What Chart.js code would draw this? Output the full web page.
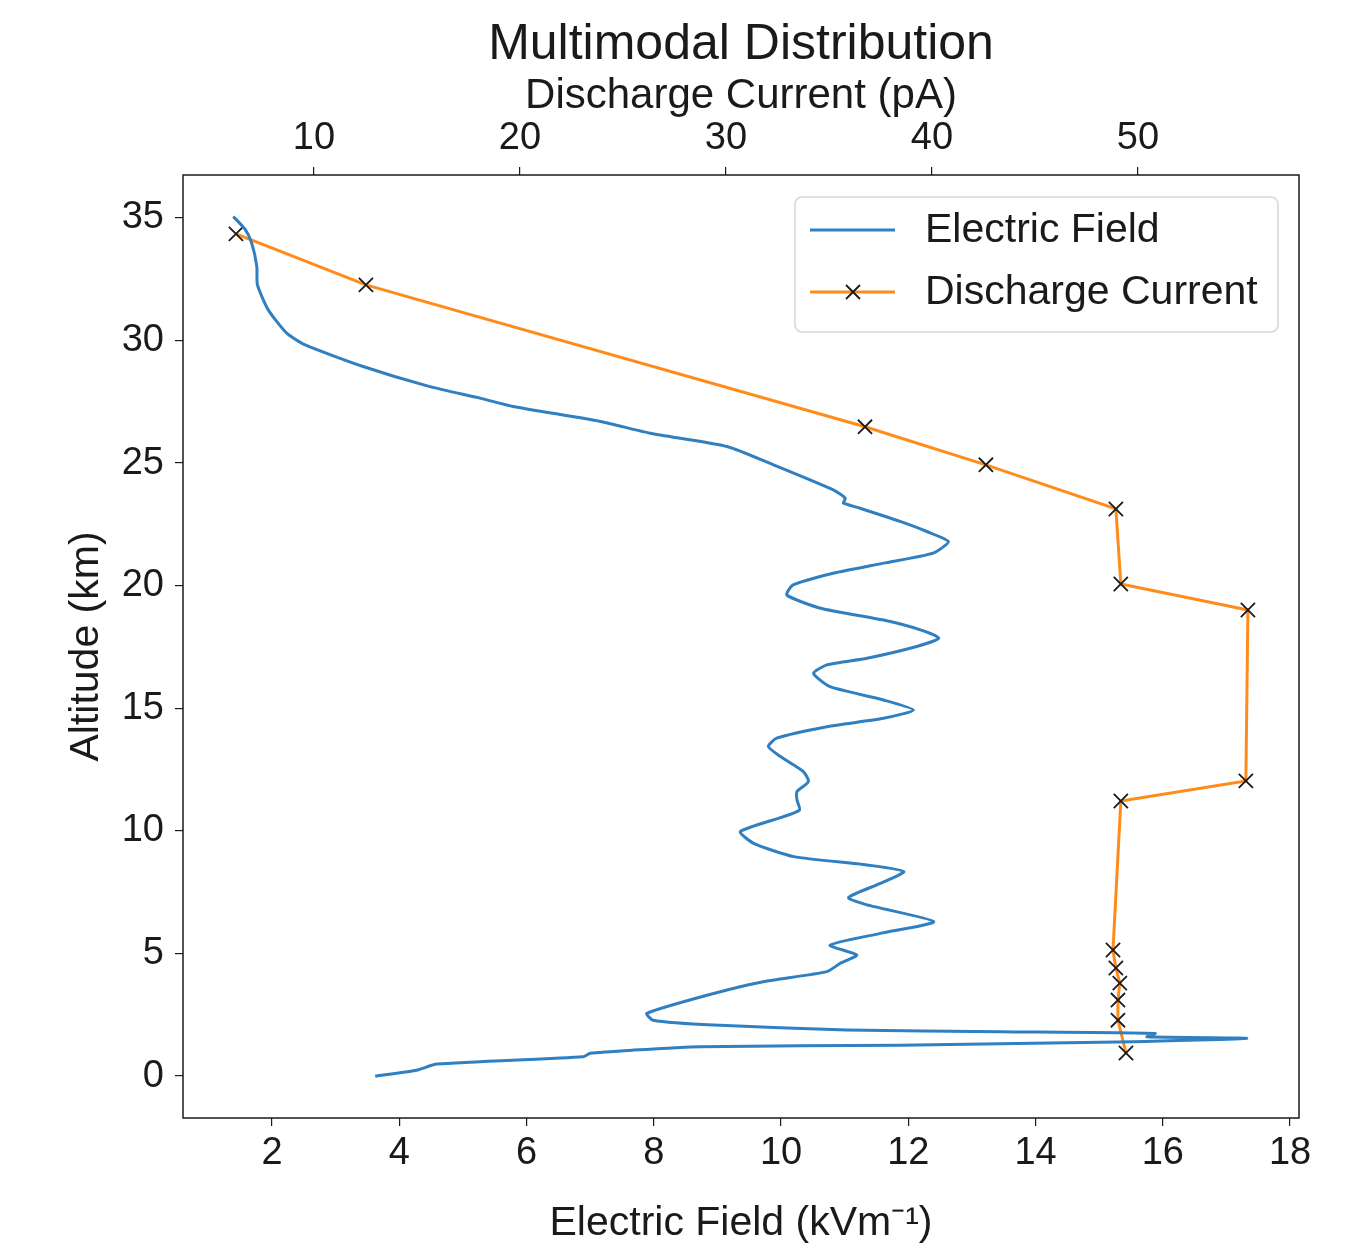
<!DOCTYPE html>
<html>

<head>
  <title>Multimodal Distribution</title>
  <meta content="text/html;charset=utf-8" http-equiv="Content-Type">
  <script src="https://cdn.jsdelivr.net/npm/chart.js"></script>
  <style>
    body { margin: 0; background: #fff; }
    #wrap { width: 1362px; height: 1254px; }
  </style>
</head>

<body>
  <div id="wrap">
    <canvas id="myChart" width="1362" height="1254"></canvas>
  </div>

  <script>
    // electric field profile (kV/m) vs altitude (km)
    const fieldValues = [1.39, 1.58, 1.68, 1.76, 1.77, 1.94, 2.23, 2.52, 3.43, 4.48, 5.27, 5.79, 7.16, 7.94,
      9.15, 9.88, 10.82, 11.01, 10.98, 11.24, 11.87, 12.29, 12.63, 12.39, 11.61, 10.82, 10.19, 10.09,
      10.62, 11.61, 12.19, 12.48, 12.13, 11.35, 10.72, 10.51, 10.77, 11.61, 12.08, 11.61, 10.72, 9.93,
      9.80, 9.99, 10.35, 10.43, 10.25, 10.25, 10.29, 10.04, 9.36, 9.57, 10.20, 11.35, 11.93, 11.56,
      11.06, 11.35, 12.40, 11.56, 10.77, 11.19, 10.93, 10.72, 9.72, 8.94, 7.89, 7.99, 8.94, 11.03,
      13.45, 15.88, 15.75, 17.32, 15.54, 11.87, 8.73, 7.68, 7.00, 6.89, 4.59, 4.27, 3.62]
    const fieldAltitudes = [35.06, 34.52, 33.97, 33.02, 32.27, 31.25, 30.30, 29.82, 28.94, 28.12, 27.65, 27.31, 26.70, 26.22,
      25.68, 24.93, 23.91, 23.57, 23.37, 23.16, 22.62, 22.21, 21.80, 21.33, 20.92, 20.51, 20.03, 19.62,
      19.08, 18.60, 18.20, 17.86, 17.52, 17.04, 16.77, 16.43, 15.88, 15.34, 14.93, 14.59, 14.25, 13.78,
      13.44, 13.03, 12.42, 12.01, 11.60, 11.26, 10.85, 10.58, 9.97, 9.49, 8.95, 8.61, 8.34, 7.86,
      7.28, 6.98, 6.30, 5.82, 5.34, 4.94, 4.60, 4.26, 3.85, 3.37, 2.56, 2.28, 2.08, 1.88,
      1.81, 1.74, 1.60, 1.54, 1.40, 1.26, 1.20, 1.06, 0.93, 0.79, 0.49, 0.24, 0.00]

    // discharge current (pA) vs altitude (km)
    const currentValues = [6.21, 12.52, 36.75, 42.62, 48.93, 49.17, 55.34, 55.24, 49.17, 48.79, 48.93, 49.12, 49.03, 49.03, 49.42]
    const currentAltitudes = [34.35, 32.27, 26.48, 24.93, 23.13, 20.07, 19.01, 12.04, 11.22, 5.14, 4.41, 3.79, 3.10, 2.28, 0.94]

    const fieldTicks = [2, 4, 6, 8, 10, 12, 14, 16, 18]
    const currentTicks = [10, 20, 30, 40, 50]
    const altitudeTicks = [0, 5, 10, 15, 20, 25, 30, 35]

    const FONT = "'Liberation Sans', Arial, sans-serif"
    const INK = '#1a1a1a'
    const BLUE = '#2f7fc1'
    const ORANGE = '#ff8c1a'

    // frame around plot + matplotlib style legend box
    const framePlugin = {
      id: 'frame',
      afterLayout(chart) {
        // center the title over the plot area, not the whole canvas
        const t = chart.titleBlock
        if (t) {
          t.left = chart.chartArea.left
          t.right = chart.chartArea.right
          t.width = t.right - t.left
        }
      },
      afterDraw(chart) {
        const { ctx, chartArea: a } = chart
        ctx.save()
        ctx.strokeStyle = INK
        ctx.lineWidth = 1.5
        ctx.strokeRect(a.left, a.top, a.right - a.left, a.bottom - a.top)

        // legend
        const bx = 795, by = 197, bw = 483, bh = 135, r = 7
        ctx.beginPath()
        ctx.roundRect(bx, by, bw, bh, r)
        ctx.fillStyle = 'rgba(255,255,255,0.85)'
        ctx.fill()
        ctx.strokeStyle = '#d6d6d6'
        ctx.lineWidth = 1.5
        ctx.stroke()

        const items = chart.data.datasets
        items.forEach((ds, i) => {
          const y = 230 + i * 62
          ctx.beginPath()
          ctx.strokeStyle = ds.borderColor
          ctx.lineWidth = 3
          ctx.moveTo(810, y)
          ctx.lineTo(895, y)
          ctx.stroke()
          if (ds.pointRadius > 0) {
            ctx.beginPath()
            ctx.strokeStyle = INK
            ctx.lineWidth = 1.8
            ctx.moveTo(846, y - 7); ctx.lineTo(860, y + 7)
            ctx.moveTo(846, y + 7); ctx.lineTo(860, y - 7)
            ctx.stroke()
          }
          ctx.fillStyle = INK
          ctx.font = '41px ' + FONT
          ctx.textBaseline = 'middle'
          ctx.textAlign = 'left'
          ctx.fillText(ds.label, 925, y + 1)
        })
        ctx.restore()
      }
    }

    const gridOpts = {
      drawOnChartArea: false,
      drawTicks: true,
      tickLength: 8,
      color: INK,
      lineWidth: 1.2
    }

    const ctx = document.getElementById('myChart').getContext('2d')

    const myChart = new Chart(ctx, {
      type: 'scatter',
      data: {
        datasets: [
          {
            label: 'Electric Field',
            data: fieldValues.map((v, i) => ({ x: v, y: fieldAltitudes[i] })),
            xAxisID: 'x',
            yAxisID: 'y',
            showLine: true,
            borderColor: BLUE,
            borderWidth: 3,
            pointRadius: 0,
            tension: 0.2
          },
          {
            label: 'Discharge Current',
            data: currentValues.map((v, i) => ({ x: v, y: currentAltitudes[i] })),
            xAxisID: 'x2',
            yAxisID: 'y',
            showLine: true,
            borderColor: ORANGE,
            borderWidth: 3,
            pointStyle: 'crossRot',
            pointRadius: 10,
            pointBorderColor: INK,
            pointBorderWidth: 1.8,
            tension: 0
          }
        ]
      },
      options: {
        responsive: false,
        animation: false,
        layout: { padding: { left: 0, right: 63, top: 0, bottom: 0 } },
        plugins: {
          legend: { display: false },
          tooltip: { enabled: false },
          title: {
            display: true,
            text: 'Multimodal Distribution',
            color: INK,
            font: { family: FONT, size: 50, weight: 'normal', lineHeight: 1 },
            padding: { top: 20, bottom: 0 }
          }
        },
        scales: {
          x: {
            type: 'linear',
            position: 'bottom',
            min: 0.6,
            max: 18.14,
            afterBuildTicks: (s) => { s.ticks = fieldTicks.map(v => ({ value: v })) },
            afterFit: (s) => { s.height = 136 },
            grid: gridOpts,
            border: { display: false },
            ticks: { color: INK, font: { family: FONT, size: 38 }, padding: 5, maxRotation: 0 },
            title: {
              display: true,
              text: 'Electric Field (kVm⁻¹)',
              color: INK,
              font: { family: FONT, size: 41, lineHeight: 1 },
              padding: { top: 0, bottom: 10 }
            }
          },
          x2: {
            type: 'linear',
            position: 'top',
            min: 3.64,
            max: 57.82,
            afterBuildTicks: (s) => { s.ticks = currentTicks.map(v => ({ value: v })) },
            afterFit: (s) => { s.height = 105 },
            grid: gridOpts,
            border: { display: false },
            ticks: { color: INK, font: { family: FONT, size: 38 }, padding: 6, maxRotation: 0 },
            title: {
              display: true,
              text: 'Discharge Current (pA)',
              color: INK,
              font: { family: FONT, size: 42, lineHeight: 1 },
              padding: { top: 5, bottom: 0 }
            }
          },
          y: {
            type: 'linear',
            position: 'left',
            min: -1.71,
            max: 36.75,
            afterBuildTicks: (s) => { s.ticks = altitudeTicks.map(v => ({ value: v })) },
            afterFit: (s) => { s.width = 183 },
            grid: gridOpts,
            border: { display: false },
            ticks: { color: INK, font: { family: FONT, size: 38 }, padding: 11 },
            title: {
              display: true,
              text: 'Altitude (km)',
              color: INK,
              font: { family: FONT, size: 41, lineHeight: 1 },
              padding: { top: 66, bottom: 0 }
            }
          }
        }
      },
      plugins: [framePlugin]
    })
  </script>
</body>

</html>
